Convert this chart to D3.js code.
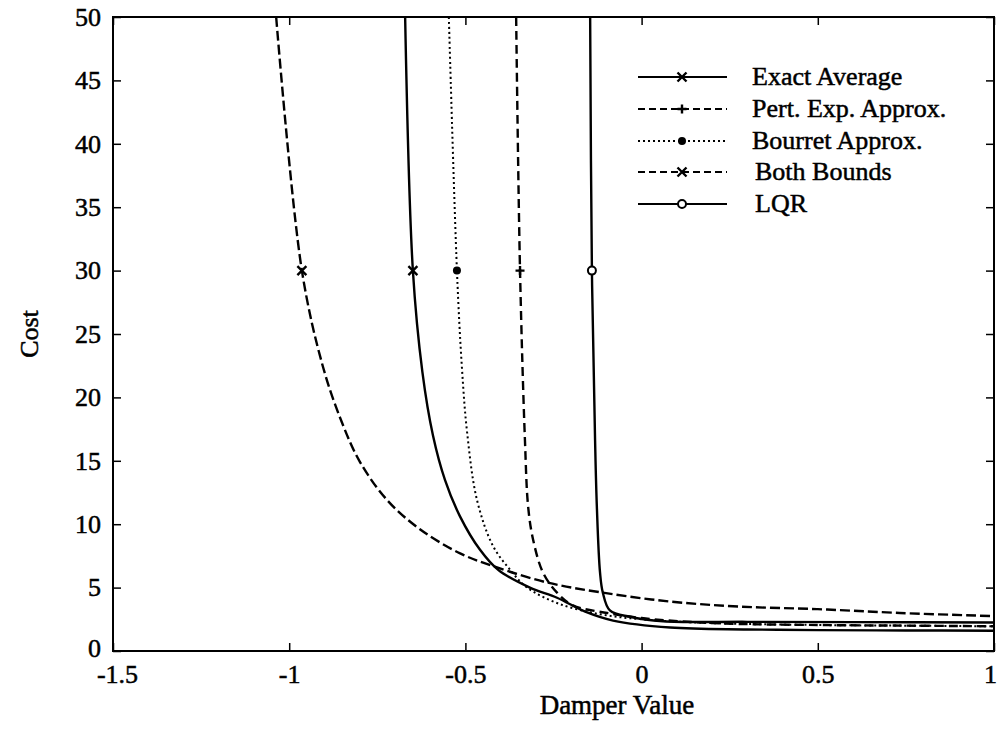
<!DOCTYPE html>
<html>
<head>
<meta charset="utf-8">
<script src="https://cdn.jsdelivr.net/npm/d3@7"></script>
<style>
  html, body { margin: 0; padding: 0; background: #fff; }
  svg { display: block; }
  text { font-family: "Liberation Serif", "Times New Roman", serif; fill: #000; stroke: #000; stroke-width: 0.5px; }
</style>
</head>
<body>
<svg id="chart" width="998" height="739"></svg>
<script>
// Axis ticks
const xTicks = [-1.5, -1, -0.5, 0, 0.5, 1];
const yTicks = [0, 5, 10, 15, 20, 25, 30, 35, 40, 45, 50];

// Series names (legend order)
const seriesNames = ["Exact Average", "Pert. Exp. Approx.", "Bourret Approx.", "Both Bounds", "LQR"];

// Damper value / cost samples for each series
const exactX = [-0.671, -0.649, -0.622, -0.592, -0.558, -0.515, -0.459, -0.407, -0.317, -0.240, -0.160, -0.081, 0.081, 0.3, 0.5, 0.75, 1.0];
const exactY = [50, 30, 22.0, 17.0, 13.5, 10.6, 8.0, 6.4, 5.0, 4.2, 3.1, 2.4, 1.85, 1.7, 1.65, 1.62, 1.6];

const pertX = [-0.356, -0.345, -0.331, -0.322, -0.308, -0.280, -0.240, -0.195, -0.098, 0.0, 0.2, 0.5, 0.75, 1.0];
const pertY = [50, 30, 16.6, 11.4, 8.8, 6.2, 4.6, 3.6, 3.0, 2.6, 2.2, 2.05, 2.0, 1.95];

const bourretX = [-0.547, -0.524, -0.510, -0.495, -0.467, -0.422, -0.373, -0.325, -0.232, -0.118, 0.0, 0.2, 0.5, 0.75, 1.0];
const bourretY = [50, 30, 22.4, 17.2, 11.9, 8.3, 6.4, 5.0, 3.7, 2.9, 2.5, 2.2, 2.05, 2.0, 1.95];

const boundsX = [-1.037, -0.964, -0.904, -0.850, -0.799, -0.722, -0.629, -0.515, -0.422, -0.268, -0.110, 0.081, 0.279, 0.5, 0.733, 1.0];
const boundsY = [50, 30, 22.4, 18.0, 14.9, 11.9, 9.6, 7.7, 6.7, 5.4, 4.6, 3.9, 3.5, 3.3, 3.0, 2.75];

const lqrX = [-0.146, -0.141, -0.132, -0.127, -0.118, -0.110, -0.090, -0.033, 0.061, 0.3, 0.6, 1.0];
const lqrY = [50, 30, 16.6, 11.4, 6.2, 4.6, 3.2, 2.7, 2.35, 2.3, 2.28, 2.25];

// Marker position on each curve (cost = 30)
const markerCost = 30;

const svg = d3.select("#chart");
const margin = { left: 113, right: 4, top: 17, bottom: 88 };
const W = 998, H = 739;
const x = d3.scaleLinear().domain([-1.5, 1]).range([margin.left, W - margin.right]);
const y = d3.scaleLinear().domain([0, 50]).range([H - margin.bottom, margin.top]);

const fontSize = 26;

// Frame
svg.append("rect")
  .attr("x", x(-1.5)).attr("y", y(50))
  .attr("width", x(1) - x(-1.5)).attr("height", y(0) - y(50))
  .attr("fill", "none").attr("stroke", "#000").attr("stroke-width", 2);

// Axes with inward ticks on all four sides
const tickLen = 8;
const bottomAxis = d3.axisBottom(x).tickValues(xTicks).tickSizeInner(-tickLen).tickSizeOuter(0).tickPadding(14)
  .tickFormat(d => String(d));
const gx = svg.append("g").attr("transform", `translate(0,${y(0)})`).call(bottomAxis);
gx.select(".domain").remove();
gx.selectAll("line").attr("stroke", "#000").attr("stroke-width", 1.5);
gx.selectAll("text").attr("font-size", fontSize).style("font-family", "Liberation Serif, serif").attr("fill", "#000");
// nudge the end labels away from the corner and the page edge
gx.selectAll(".tick").filter(d => d === 1).select("text").attr("dx", -4);
gx.selectAll(".tick").filter(d => d === -1.5).select("text").attr("dx", 4);

const topAxis = d3.axisTop(x).tickValues(xTicks).tickSizeInner(-tickLen).tickSizeOuter(0).tickFormat("");
const gt = svg.append("g").attr("transform", `translate(0,${y(50)})`).call(topAxis);
gt.select(".domain").remove();
gt.selectAll("line").attr("stroke", "#000").attr("stroke-width", 1.5);

const leftAxis = d3.axisLeft(y).tickValues(yTicks).tickSizeInner(-tickLen).tickSizeOuter(0).tickPadding(12);
const gy = svg.append("g").attr("transform", `translate(${x(-1.5)},0)`).call(leftAxis);
gy.select(".domain").remove();
gy.selectAll("line").attr("stroke", "#000").attr("stroke-width", 1.5);
gy.selectAll("text").attr("font-size", fontSize).style("font-family", "Liberation Serif, serif").attr("fill", "#000");
gy.selectAll(".tick").filter(d => d === 0).select("text").attr("dy", "0.2em");

const rightAxis = d3.axisRight(y).tickValues(yTicks).tickSizeInner(-tickLen).tickSizeOuter(0).tickFormat("");
const gr = svg.append("g").attr("transform", `translate(${x(1)},0)`).call(rightAxis);
gr.select(".domain").remove();
gr.selectAll("line").attr("stroke", "#000").attr("stroke-width", 1.5);

// Axis titles
svg.append("text")
  .attr("x", 617).attr("y", 714)
  .attr("text-anchor", "middle").attr("font-size", fontSize + 1)
  .text("Damper Value");
svg.append("text")
  .attr("transform", `translate(38,${(y(0) + y(50)) / 2}) rotate(-90)`)
  .attr("text-anchor", "middle").attr("font-size", fontSize)
  .text("Cost");

// Curves
svg.append("clipPath").attr("id", "plotclip").append("rect")
  .attr("x", x(-1.5)).attr("y", y(50)).attr("width", x(1) - x(-1.5)).attr("height", y(0) - y(50));

const line = d3.line().x(d => x(d[0])).y(d => y(d[1])).curve(d3.curveCatmullRom.alpha(0.5));

const series = [
  { name: seriesNames[0], xs: exactX, ys: exactY, dash: null, marker: "x" },
  { name: seriesNames[1], xs: pertX, ys: pertY, dash: "9,5", marker: "+" },
  { name: seriesNames[2], xs: bourretX, ys: bourretY, dash: "2,3", marker: "dot" },
  { name: seriesNames[3], xs: boundsX, ys: boundsY, dash: "10,4", marker: "x" },
  { name: seriesNames[4], xs: lqrX, ys: lqrY, dash: null, marker: "o" }
];

const plot = svg.append("g").attr("clip-path", "url(#plotclip)");

function drawMarker(g, type, cx, cy) {
  const s = 4.5;
  if (type === "x") {
    g.append("path")
      .attr("d", `M${cx - s},${cy - s}L${cx + s},${cy + s}M${cx - s},${cy + s}L${cx + s},${cy - s}`)
      .attr("stroke", "#000").attr("stroke-width", 2.4).attr("fill", "none");
  } else if (type === "+") {
    g.append("path")
      .attr("d", `M${cx - s},${cy}L${cx + s},${cy}M${cx},${cy - s}L${cx},${cy + s}`)
      .attr("stroke", "#000").attr("stroke-width", 2.4).attr("fill", "none");
  } else if (type === "dot") {
    g.append("circle").attr("cx", cx).attr("cy", cy).attr("r", 4).attr("fill", "#000");
  } else if (type === "o") {
    g.append("circle").attr("cx", cx).attr("cy", cy).attr("r", 4)
      .attr("fill", "#fff").attr("stroke", "#000").attr("stroke-width", 2);
  }
}

series.forEach(s => {
  const pts = s.xs.map((v, i) => [v, s.ys[i]]);
  plot.append("path")
    .attr("d", line(pts))
    .attr("fill", "none")
    .attr("stroke", "#000")
    .attr("stroke-width", s.dash === "2,3" ? 2 : 2.4)
    .attr("stroke-dasharray", s.dash);
  const mi = s.ys.indexOf(markerCost);
  drawMarker(svg, s.marker, x(s.xs[mi]), y(s.ys[mi]));
});

// Legend
const legendRows = [77, 109, 141, 172, 204];
const legend = svg.append("g");
series.forEach((s, i) => {
  const ly = legendRows[i];
  legend.append("line")
    .attr("x1", 638).attr("x2", 727).attr("y1", ly).attr("y2", ly)
    .attr("stroke", "#000").attr("stroke-width", 2)
    .attr("stroke-dasharray", s.dash ? (s.dash === "2,3" ? "2,3" : "7,4") : null);
  drawMarker(legend, s.marker, 682, ly);
  legend.append("text")
    .attr("x", i >= 3 ? 755 : 752).attr("y", ly + 8)
    .attr("font-size", fontSize)
    .text(s.name);
});
</script>
</body>
</html>
